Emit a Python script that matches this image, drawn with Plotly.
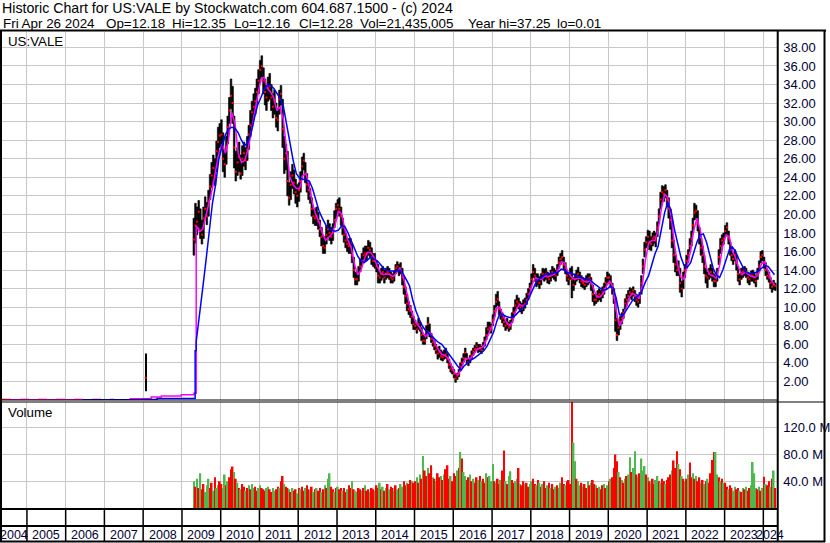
import plotly.graph_objects as go
import pandas as pd

W, H = 830, 543
FONT = "Liberation Sans, Arial, sans-serif"
TEXT = "#000033"
GRID = "#c8c8c8"
GREEN = "#4db84d"

# half-month bars, 2nd half of Apr 2009 .. 2nd half of Apr 2024
price_high = [
    19.6, 21.2, 20.8, 21.5, 20.6, 19.4, 20.8, 21.9, 21.3, 22.6, 24.3, 25.6, 26.4, 26.0, 27.9, 29.4, 29.8,
    30.2, 28.8, 26.8, 28.4, 30.6, 32.6, 34.6, 33.8, 30.6, 26.8, 27.2, 27.8, 26.4, 27.4, 27.8, 27.2, 28.4, 29.6, 31.2, 32.2, 33.0, 33.6, 34.6, 35.6,
    36.6, 37.1, 35.8, 34.6, 33.6, 34.8, 35.2, 34.0, 33.0, 33.4, 32.0, 31.4, 33.4, 33.9, 32.4, 28.4, 27.6, 26.8, 23.4, 24.6, 25.4, 24.8, 23.8, 23.2,
    23.4, 24.6, 26.2, 26.6, 25.6, 24.4, 23.4, 22.8, 21.8, 20.6, 20.6, 20.8, 20.2, 19.4, 18.6, 17.6, 17.6, 18.8, 19.4, 19.0, 18.6, 19.0, 20.4, 21.2,
    21.6, 21.8, 20.8, 19.6, 18.6, 18.0, 17.4, 17.4, 17.4, 16.8, 15.4, 13.8, 13.8, 14.4, 15.2, 15.8, 16.4, 16.6, 16.6, 17.2, 17.0, 16.4, 15.8, 15.8,
    15.0, 14.6, 13.8, 14.2, 14.4, 14.0, 14.2, 14.4, 14.2, 13.8, 13.6, 13.9, 14.6, 14.9, 14.6, 14.8, 14.2, 13.2, 12.2, 11.4, 10.6, 10.2, 9.6, 9.0,
    8.6, 8.2, 8.8, 8.4, 7.8, 7.0, 7.0, 8.0, 8.9, 8.2, 7.2, 6.8, 6.4, 6.0, 5.6, 5.8, 5.4, 5.2, 5.4, 5.6, 5.0, 4.4, 3.9, 3.6,
    3.3, 2.8, 2.9, 3.3, 4.0, 4.5, 5.0, 5.6, 5.0, 4.5, 4.8, 5.3, 5.6, 5.9, 6.2, 6.0, 6.0, 5.8, 6.2, 6.8, 7.8, 8.4, 8.4, 8.2,
    9.2, 10.2, 11.4, 11.7, 10.6, 9.8, 9.4, 9.0, 8.6, 8.8, 8.4, 8.6, 9.4, 10.0, 10.8, 11.3, 11.0, 10.6, 10.4, 10.8, 11.0, 11.5, 12.0, 12.6,
    13.6, 14.6, 14.2, 13.6, 13.6, 13.3, 13.6, 14.2, 14.1, 14.2, 13.8, 13.6, 14.0, 14.4, 14.2, 14.0, 14.6, 15.4, 15.8, 16.1, 15.4, 14.8, 14.0, 13.6,
    14.2, 14.4, 13.2, 13.6, 14.0, 14.3, 13.8, 13.4, 13.2, 13.0, 13.4, 13.6, 13.6, 13.2, 12.4, 11.4, 11.4, 11.8, 12.0, 11.8, 12.2, 12.6, 13.2, 13.8,
    13.6, 13.4, 12.6, 12.0, 11.0, 8.8, 8.4, 9.0, 9.4, 9.8, 10.9, 11.4, 11.8, 12.1, 12.0, 12.2, 11.8, 11.4, 11.2, 11.6, 13.4, 15.2, 17.0, 17.6,
    18.3, 18.2, 17.6, 18.0, 18.2, 18.0, 19.2, 20.6, 22.4, 23.1, 23.0, 23.2, 22.6, 21.8, 20.6, 19.4, 17.2, 15.6, 15.0, 15.0, 14.2, 12.8, 13.8, 14.6,
    15.6, 16.2, 17.4, 18.2, 19.6, 21.2, 21.0, 20.4, 18.6, 17.4, 16.6, 15.6, 14.2, 13.8, 14.2, 14.6, 14.2, 13.6, 13.4, 14.2, 16.2, 17.4, 17.8, 18.0,
    18.8, 19.1, 18.2, 17.0, 16.2, 15.8, 16.2, 15.6, 14.4, 13.6, 14.2, 14.3, 14.4, 14.2, 13.8, 13.6, 13.9, 14.0, 13.8, 13.4, 14.2, 15.0, 16.0, 16.1,
    15.4, 14.8, 14.0, 13.8, 13.2, 12.8, 12.9, 12.6,
]
price_low = [
    15.6, 16.9, 17.8, 18.6, 17.4, 16.8, 17.4, 19.5, 18.9, 19.8, 21.6, 22.9, 23.6, 23.1, 24.6, 26.3, 27.2,
    27.4, 24.6, 24.0, 25.4, 27.6, 29.8, 31.4, 29.8, 25.0, 23.6, 24.2, 24.6, 23.8, 24.2, 25.2, 24.8, 25.8, 27.0, 28.4, 29.4, 30.2, 30.8, 31.8, 33.0,
    34.2, 34.8, 33.0, 31.8, 31.2, 32.2, 32.4, 31.2, 30.4, 30.8, 29.4, 29.0, 30.8, 31.8, 27.2, 24.4, 24.8, 22.0, 21.0, 21.6, 22.8, 22.2, 21.2, 20.8,
    21.4, 22.4, 24.2, 24.8, 23.4, 22.4, 21.6, 21.2, 19.8, 19.0, 18.8, 18.8, 18.4, 17.6, 16.6, 15.8, 15.8, 16.8, 17.6, 17.2, 16.8, 17.2, 18.6, 19.6,
    20.2, 19.8, 18.8, 17.8, 17.0, 16.4, 16.0, 15.8, 15.8, 14.8, 13.2, 12.4, 12.4, 12.8, 13.8, 14.4, 14.8, 15.0, 15.0, 15.6, 15.4, 14.6, 14.4, 14.2,
    13.8, 12.6, 12.6, 12.9, 13.2, 12.6, 13.0, 13.2, 13.0, 12.6, 12.6, 12.8, 13.6, 13.8, 13.4, 13.6, 12.4, 11.4, 10.4, 9.6, 9.2, 8.9, 8.2, 7.6,
    7.6, 7.2, 7.6, 7.4, 6.4, 6.0, 6.0, 6.6, 7.4, 6.8, 6.2, 5.8, 5.4, 5.0, 4.4, 4.6, 4.3, 4.2, 4.4, 4.5, 4.0, 3.4, 3.0, 2.8,
    2.4, 1.9, 2.2, 2.5, 3.2, 3.6, 4.1, 4.6, 3.9, 3.7, 4.0, 4.4, 4.8, 5.1, 5.4, 5.1, 5.2, 5.0, 5.4, 5.8, 6.5, 7.0, 7.3, 7.2,
    8.0, 9.0, 10.0, 10.2, 9.2, 8.7, 8.3, 7.9, 7.5, 7.7, 7.4, 7.6, 8.3, 8.9, 9.6, 10.0, 9.8, 9.5, 9.3, 9.6, 9.9, 10.3, 10.8, 11.4,
    12.4, 13.2, 12.8, 12.2, 12.4, 12.0, 12.4, 13.0, 12.8, 13.0, 12.6, 12.5, 12.8, 13.2, 13.0, 12.8, 13.4, 14.2, 14.6, 14.8, 14.0, 13.6, 12.8, 12.4,
    13.0, 11.0, 11.8, 12.4, 12.8, 13.0, 12.6, 12.2, 12.1, 11.9, 12.2, 12.4, 12.6, 11.8, 10.6, 10.2, 10.4, 10.6, 10.8, 10.6, 11.0, 11.4, 12.0, 12.6,
    12.6, 12.2, 11.4, 10.4, 7.4, 6.4, 7.0, 7.6, 8.2, 8.8, 9.8, 10.2, 10.6, 11.0, 10.8, 11.2, 10.6, 10.2, 10.0, 10.4, 11.4, 13.6, 15.4, 16.4,
    16.6, 16.2, 16.1, 16.6, 16.9, 16.5, 17.6, 19.0, 20.6, 21.4, 21.4, 21.8, 20.8, 19.6, 18.4, 16.4, 14.8, 13.8, 13.4, 13.4, 11.6, 11.1, 12.0, 13.2,
    14.2, 14.8, 16.0, 16.6, 18.0, 19.4, 19.6, 18.2, 16.8, 15.6, 14.8, 13.6, 12.6, 12.1, 13.0, 13.2, 12.8, 12.2, 12.2, 12.8, 14.6, 15.8, 16.6, 16.8,
    17.6, 17.8, 16.8, 15.6, 15.0, 14.6, 15.0, 14.0, 12.8, 12.4, 13.0, 13.2, 13.4, 13.2, 12.6, 12.4, 12.8, 12.8, 12.6, 12.2, 13.0, 13.8, 14.8, 15.0,
    14.2, 13.4, 13.0, 12.7, 12.0, 11.6, 11.9, 11.8,
]
price_close = [
    17.3, 18.8, 19.2, 20.3, 18.2, 17.8, 19.6, 20.6, 19.8, 21.4, 23.0, 24.2, 25.0, 24.0, 26.8, 27.8, 28.5,
    28.6, 26.0, 25.4, 27.2, 29.4, 31.2, 32.8, 32.0, 27.2, 24.6, 25.6, 26.2, 24.4, 26.0, 26.6, 25.8, 27.0, 28.6, 29.6, 31.0, 31.6, 32.2, 33.2, 34.4,
    35.6, 36.0, 34.4, 33.2, 32.6, 33.6, 33.8, 32.6, 31.6, 32.2, 30.4, 30.2, 32.4, 33.0, 29.2, 26.0, 26.6, 23.6, 21.8, 23.2, 24.2, 23.4, 22.4, 22.0,
    22.6, 23.6, 25.2, 25.8, 24.4, 23.2, 22.6, 22.0, 20.6, 19.8, 19.6, 19.8, 19.2, 18.4, 17.6, 16.6, 16.4, 17.8, 18.4, 18.0, 17.6, 18.0, 19.4, 20.6,
    21.0, 20.6, 19.8, 18.6, 17.8, 17.2, 16.8, 16.6, 16.6, 15.6, 14.0, 13.0, 13.0, 13.6, 14.4, 15.0, 15.6, 15.8, 15.8, 16.4, 16.2, 15.4, 15.0, 15.0,
    14.4, 13.4, 13.2, 13.6, 13.8, 13.2, 13.6, 13.8, 13.6, 13.2, 13.0, 13.4, 14.2, 14.4, 14.0, 14.2, 13.2, 12.2, 11.2, 10.4, 9.8, 9.6, 9.0, 8.2,
    8.0, 7.6, 8.2, 7.8, 7.0, 6.4, 6.4, 7.4, 8.2, 7.2, 6.6, 6.2, 5.8, 5.4, 5.0, 5.2, 4.7, 4.6, 4.8, 4.9, 4.4, 3.8, 3.4, 3.2,
    2.8, 2.3, 2.6, 2.9, 3.6, 4.0, 4.5, 5.1, 4.4, 4.1, 4.4, 4.8, 5.2, 5.5, 5.8, 5.5, 5.6, 5.4, 5.8, 6.3, 7.0, 7.6, 7.8, 7.6,
    8.6, 9.6, 10.6, 10.9, 9.8, 9.2, 8.8, 8.4, 8.0, 8.2, 7.8, 8.0, 8.8, 9.4, 10.2, 10.6, 10.4, 10.0, 9.8, 10.2, 10.4, 10.8, 11.4, 12.0,
    13.0, 13.8, 13.4, 12.8, 13.0, 12.6, 13.0, 13.6, 13.4, 13.6, 13.2, 13.0, 13.4, 13.8, 13.6, 13.4, 14.0, 14.8, 15.2, 15.4, 14.6, 14.2, 13.4, 13.0,
    13.6, 13.0, 12.4, 13.0, 13.4, 13.6, 13.2, 12.8, 12.6, 12.4, 12.8, 13.0, 13.2, 12.6, 11.4, 10.8, 10.8, 11.2, 11.4, 11.2, 11.6, 12.0, 12.6, 13.2,
    13.2, 12.6, 12.0, 11.0, 8.6, 7.0, 7.8, 8.4, 8.8, 9.4, 10.4, 10.8, 11.2, 11.6, 11.4, 11.8, 11.2, 10.8, 10.6, 11.0, 12.6, 14.4, 16.2, 17.0,
    17.6, 17.0, 16.8, 17.4, 17.6, 17.2, 18.6, 19.8, 21.6, 22.4, 22.2, 22.6, 21.6, 20.6, 19.4, 17.2, 15.6, 14.6, 14.0, 14.2, 12.6, 12.0, 13.2, 14.0,
    15.0, 15.6, 16.6, 17.4, 18.8, 20.2, 20.4, 19.0, 17.6, 16.4, 15.6, 14.4, 13.4, 13.2, 13.6, 13.8, 13.4, 12.8, 12.8, 13.4, 15.4, 16.6, 17.2, 17.4,
    18.2, 18.6, 17.4, 16.2, 15.6, 15.2, 15.6, 14.8, 13.6, 13.0, 13.6, 13.8, 14.0, 13.8, 13.2, 13.0, 13.4, 13.4, 13.2, 12.8, 13.6, 14.4, 15.4, 15.6,
    14.8, 14.0, 13.4, 13.2, 12.6, 12.2, 12.4, 12.3,
]

# volume in millions, same half-month slots; r = down, g = up
volume_m = [
    40, 32, 44, 30, 52, 28, 36, 24, 34, 44, 30, 38, 26, 46, 30, 34, 40,
    36, 30, 50, 34, 40, 46, 58, 62, 54, 44, 38, 30, 28, 36, 32, 26, 30, 34, 28, 36, 30, 32, 26, 30,
    34, 30, 28, 26, 30, 32, 28, 24, 30, 26, 28, 32, 30, 40, 48, 36, 32, 30, 28, 24, 30, 26, 28, 22,
    30, 28, 32, 26, 30, 34, 28, 26, 32, 24, 28, 30, 26, 30, 24, 28, 34, 30, 44, 52, 32, 28, 24, 30,
    32, 28, 30, 26, 30, 24, 28, 34, 30, 40, 28, 26, 24, 30, 28, 26, 30, 34, 26, 28, 24, 30, 28, 26,
    34, 30, 38, 28, 32, 26, 30, 36, 28, 32, 30, 26, 34, 28, 30, 36, 32, 40, 34, 38, 36, 42, 40, 38,
    40, 46, 38, 50, 44, 78, 56, 48, 60, 52, 64, 46, 44, 40, 52, 46, 48, 42, 50, 58, 64, 44, 48, 40,
    52, 48, 56, 60, 84, 74, 54, 48, 42, 46, 50, 40, 44, 38, 46, 42, 48, 40, 44, 38, 52, 46, 48, 40,
    66, 40, 38, 44, 36, 42, 56, 86, 40, 36, 48, 55, 42, 38, 40, 44, 60, 36, 34, 40, 36, 38, 32, 36,
    40, 44, 36, 34, 42, 38, 32, 36, 40, 30, 34, 38, 30, 36, 28, 32, 34, 30, 38, 46, 36, 34, 40, 42,
    36, 160, 98, 70, 44, 40, 34, 38, 32, 36, 30, 40, 34, 38, 42, 36, 34, 30, 32, 28, 34, 36, 30, 34,
    40, 44, 46, 60, 80, 70, 54, 46, 42, 38, 44, 48, 50, 76, 54, 60, 85, 50, 46, 52, 74, 56, 63, 50,
    46, 40, 38, 44, 36, 42, 48, 40, 38, 44, 40, 36, 42, 46, 50, 56, 71, 60, 85, 66, 58, 48, 44, 40,
    44, 50, 68, 46, 52, 44, 48, 40, 46, 38, 42, 36, 40, 44, 38, 52, 72, 84, 84, 50, 46, 40, 44, 38,
    38, 32, 28, 34, 30, 26, 32, 28, 30, 26, 24, 30, 28, 32, 26, 30, 34, 69, 52, 30, 28, 32, 26, 30,
    47, 36, 34, 40, 32, 44, 56, 30,
]
volume_dir = (
    "grgrgrrgggrrgrggr"
    "rggrgrrrgrgrgrrgrgrggrrg"
    "grrrggrrggrrgrrgrrgrgrrg"
    "rgrrgrrgrgrgrrgrgrggrrgr"
    "grrgrrgrrgrggrrgrgrrgrrg"
    "rrgrgrgrgrrgrgrggrrgrrgr"
    "rgrgrgrrgrrgrgrrgrgrrrgr"
    "rrgrgrggrrgrgrrgrgrrgrgg"
    "grgrrgrrgrggrrggrgrrgrrg"
    "grrgrgrgrrgrgrrgrggrrgrr"
    "rrggrggrgrrgrgrrgrgrrgrg"
    "rgrrrrgrgrgrggrggrgrgggr"
    "grgrrggrgrrgrrrgrrrgrgrg"
    "rgrrgrgrrgrgrgrrrrggrgrg"
    "rrgrrggrrgrgrgrrggggrgrg"
    "rgrrgrgr"
)

# moving averages, monthly (mid-month) May 2009 .. Apr 2024
fast_ma = [
    18.8, 18.2, 18.4, 20.0, 21.4, 22.8, 24.8, 26.6,
    27.6, 26.6, 28.0, 31.0, 29.8, 26.6, 25.6, 25.8, 27.0, 29.0, 31.0, 32.8,
    34.6, 34.8, 33.6, 33.2, 32.6, 31.2, 31.6, 30.2, 26.8, 24.0, 23.2, 22.8,
    22.8, 24.2, 24.4, 23.0, 21.2, 20.0, 19.2, 18.0, 17.2, 17.6, 17.9, 18.9,
    20.4, 20.0, 18.4, 17.2, 16.4, 14.6, 13.5, 14.0, 15.2, 15.9, 15.9, 15.4,
    14.4, 13.7, 13.5, 13.6, 13.5, 13.3, 13.8, 14.2, 13.4, 11.8, 10.2, 9.2,
    8.3, 7.9, 7.3, 6.8, 7.3, 7.0, 6.0, 5.4, 4.9, 4.8, 4.5, 3.7,
    2.9, 2.7, 3.3, 4.3, 4.5, 4.5, 5.0, 5.5, 5.6, 5.8, 6.7, 7.5,
    8.4, 9.9, 10.0, 9.1, 8.4, 8.0, 8.5, 9.7, 10.3, 10.1, 10.3, 11.1,
    12.5, 13.2, 13.0, 13.0, 13.4, 13.3, 13.4, 13.6, 14.0, 14.9, 14.8, 13.8,
    13.3, 13.0, 13.1, 13.2, 12.8, 12.7, 12.9, 12.0, 11.1, 11.1, 11.5, 12.3,
    12.8, 12.2, 9.6, 8.0, 8.6, 9.8, 11.0, 11.5, 11.3, 10.9, 12.2, 15.0,
    16.9, 17.2, 17.2, 18.3, 20.6, 22.2, 21.8, 19.8, 16.8, 14.6, 13.2, 13.0,
    14.4, 16.1, 18.2, 19.6, 18.4, 16.0, 14.2, 13.5, 13.4, 13.1, 14.5, 16.6,
    17.8, 17.6, 16.1, 15.3, 14.2, 13.5, 13.8, 13.5, 13.3, 13.2, 13.5, 14.7,
    14.9, 13.9, 12.9, 12.4,
]
slow_ma = [
    6.3, 8.9, 12.0, 15.0, 18.3, 21.2, 23.3, 26.0,
    27.4, 28.6, 29.2, 29.4, 29.3, 28.8, 28.0, 27.4, 27.8, 28.8, 30.4, 31.8,
    32.6, 33.5, 33.9, 33.9, 33.6, 33.1, 32.5, 31.6, 29.6, 27.5, 25.8, 24.4,
    23.9, 23.8, 23.7, 23.6, 22.8, 21.6, 20.4, 19.6, 18.9, 18.5, 18.3, 18.2,
    18.3, 18.8, 18.7, 18.0, 17.2, 16.2, 15.5, 15.0, 14.8, 15.1, 15.4, 15.2,
    15.0, 14.6, 14.2, 14.0, 13.9, 13.9, 13.9, 14.0, 13.6, 13.0, 12.3, 10.8,
    9.6, 8.7, 8.0, 7.5, 7.2, 6.9, 6.6, 6.2, 6.0, 5.5, 5.0, 4.6,
    4.1, 3.6, 3.2, 3.7, 4.0, 4.3, 4.5, 4.8, 5.0, 5.3, 5.8, 6.5,
    7.3, 8.5, 9.3, 9.2, 9.0, 8.9, 8.9, 9.2, 9.6, 10.0, 10.3, 11.0,
    11.9, 12.6, 13.0, 13.2, 13.5, 13.6, 13.6, 13.7, 13.8, 14.1, 14.0, 13.7,
    13.7, 13.5, 13.3, 13.2, 13.1, 13.0, 12.9, 12.6, 12.3, 12.0, 11.8, 11.9,
    12.2, 12.1, 11.0, 9.2, 9.1, 9.6, 10.2, 10.7, 11.0, 11.3, 11.8, 12.7,
    13.4, 14.6, 15.7, 16.6, 18.4, 20.2, 21.3, 20.4, 18.4, 16.8, 15.4, 14.5,
    14.3, 14.8, 15.8, 17.0, 17.8, 17.9, 17.0, 15.6, 14.2, 13.5, 13.2, 14.0,
    15.2, 16.2, 16.5, 16.0, 15.2, 14.4, 13.8, 13.7, 13.6, 13.7, 13.9, 14.2,
    14.5, 14.4, 14.0, 13.5,
]

# stray prints and averages before the 2009 listing
junk_dates = ["2004-05-11", "2007-04-01"]
junk_close = [0.03, 0.03]
fast_early_dates = ["2004-06-10", "2007-09-01", "2008-03-17", "2008-06-20", "2008-12-25", "2009-04-24", "2009-05-15"]
fast_early = [0.03, 0.14, 0.31, 0.42, 0.57, 0.74, 18.8]
slow_early_dates = ["2006-06-10", "2007-12-24", "2008-05-11", "2009-05-05", "2009-05-15"]
slow_early = [0.03, 0.06, 0.17, 5.3, 6.3]
spike_date = ["2008-01-25"]
spike_high = [5.0]
spike_low = [0.94]
spike_close = [2.4]

years = list(range(2004, 2025))
x_start, x_end = "2004-05-11", "2024-05-11"

header1 = "Historic Chart for US:VALE by Stockwatch.com 604.687.1500 - (c) 2024"
header2 = [("Fri Apr 26 2024", 3), ("Op=12.18", 107), ("Hi=12.35", 173), ("Lo=12.16", 235),
           ("Cl=12.28", 300), ("Vol=21,435,005", 362), ("Year hi=37.25", 470), ("lo=0.01", 560)]


def px(x):
    return x / W


def py(y):
    return 1 - y / H


months = pd.period_range("2009-04", "2024-04", freq="M")
half_dates = []
for m in months:
    half_dates += [m.start_time + pd.Timedelta(days=7), m.start_time + pd.Timedelta(days=22)]
half_dates = half_dates[1:]
ma_dates = [m.start_time + pd.Timedelta(days=14) for m in pd.period_range("2009-05", "2024-04", freq="M")]
bar_w = 15.5 * 86400000

fig = go.Figure()
fig.add_trace(go.Scatter(x=junk_dates, y=junk_close, mode="lines",
                         line=dict(color="red", width=2, dash="dash")))
fig.add_trace(go.Bar(x=half_dates, y=[h - l for h, l in zip(price_high, price_low)], base=price_low,
                     width=bar_w, marker=dict(color="black", line=dict(color="black", width=0.6))))
fig.add_trace(go.Bar(x=spike_date, y=[spike_high[0] - spike_low[0]], base=spike_low,
                     width=10 * 86400000, marker=dict(color="black", line_width=0)))
fig.add_trace(go.Scatter(x=half_dates + spike_date, y=price_close + spike_close, mode="markers",
                         marker=dict(symbol="square", size=2, color="red")))
fig.add_trace(go.Scatter(x=fast_early_dates, y=fast_early, mode="lines", line_shape="hv",
                         line=dict(color="#ff00ff", width=1.5)))
fig.add_trace(go.Scatter(x=ma_dates, y=fast_ma, mode="lines", line=dict(color="#ff00ff", width=1.5)))
fig.add_trace(go.Scatter(x=slow_early_dates, y=slow_early, mode="lines", line_shape="hv",
                         line=dict(color="#0000ff", width=1.5)))
fig.add_trace(go.Scatter(x=ma_dates, y=slow_ma, mode="lines", line=dict(color="#0000ff", width=1.5)))

fig.add_trace(go.Bar(x=half_dates, y=volume_m, width=bar_w, xaxis="x2", yaxis="y2",
                     marker=dict(color=["red" if c == "r" else GREEN for c in volume_dir], line_width=0)))

xax = dict(domain=[px(2), px(781)], range=[x_start, x_end], type="date", showticklabels=False, ticks="",
           showgrid=True, gridcolor=GRID, gridwidth=1, tick0="2005-01-01", dtick="M12",
           zeroline=False, showline=False)
fig.update_layout(
    width=W, height=H, margin=dict(l=0, r=0, t=0, b=0),
    paper_bgcolor="white", plot_bgcolor="white", showlegend=False, barmode="overlay",
    font=dict(family=FONT, size=13, color=TEXT),
    xaxis=dict(xax, anchor="y"),
    xaxis2=dict(xax, anchor="y2", matches="x"),
    yaxis=dict(domain=[py(400), py(32)], range=[0, 39.66], side="right", anchor="x",
               tickvals=list(range(2, 39, 2)), tickformat=".2f", ticks="", ticklabelstandoff=5,
               showgrid=True, gridcolor=GRID, zeroline=False, showline=False),
    yaxis2=dict(domain=[py(508), py(402)], range=[0, 158.8], side="right", anchor="x2",
                tickvals=[40, 80, 120], ticktext=["40.0 M", "80.0 M", "120.0 M"], ticks="",
                ticklabelstandoff=5, showgrid=True, gridcolor=GRID, zeroline=False, showline=False),
)

shapes = []


def hline(y, x0, x1, w=2):
    shapes.append(dict(type="line", xref="paper", yref="paper", x0=px(x0), x1=px(x1), y0=py(y), y1=py(y),
                       line=dict(color="black", width=w)))


def vline(x, y0, y1, w=2):
    shapes.append(dict(type="line", xref="paper", yref="paper", x0=px(x), x1=px(x), y0=py(y0), y1=py(y1),
                       line=dict(color="black", width=w)))


hline(30.5, 0, 830)
hline(400, 0, 781, 1)
hline(402, 0, 829, 1)
hline(509, 0, 781)
hline(526, 0, 781)
hline(541.5, 0, 829)
vline(1, 30, 542)
vline(781.5, 30, 542)
vline(828.5, 30, 542)
for yr in years[1:]:
    shapes.append(dict(type="line", xref="x2", yref="paper", x0=f"{yr}-01-01", x1=f"{yr}-01-01",
                       y0=py(541), y1=py(509), line=dict(color="black", width=1.5)))
fig.update_layout(shapes=shapes)

ann = [dict(text=header1, x=px(1), y=py(8), xref="paper", yref="paper", xanchor="left",
            yanchor="middle", showarrow=False, borderpad=0, font=dict(size=14.2, color="black"))]
for txt, x in header2:
    ann.append(dict(text=txt, x=px(x - 1), y=py(23), xref="paper", yref="paper", xanchor="left",
                    yanchor="middle", showarrow=False, borderpad=0, font=dict(size=13.4, color="black")))
ann.append(dict(text="US:VALE", x=px(6), y=py(41), xref="paper", yref="paper", xanchor="left",
                yanchor="middle", showarrow=False, font=dict(size=13.3, color="black")))
ann.append(dict(text="Volume", x=px(6), y=py(413), xref="paper", yref="paper", xanchor="left",
                yanchor="middle", showarrow=False, font=dict(size=13.3, color="black")))
lo_t, hi_t = pd.Timestamp(x_start), pd.Timestamp(x_end)
for yr in years:
    a = max(pd.Timestamp(f"{yr}-01-01"), lo_t)
    b = min(pd.Timestamp(f"{yr + 1}-01-01"), hi_t)
    ann.append(dict(text=str(yr), x=a + (b - a) / 2, y=py(534.5), xref="x2", yref="paper",
                    xanchor="center", yanchor="middle", showarrow=False, font=dict(size=12.5, color=TEXT)))
fig.update_layout(annotations=ann)

fig.write_html("out.html", config={"displayModeBar": False},
               post_script="document.body.style.margin='0';document.body.style.overflow='hidden';")
